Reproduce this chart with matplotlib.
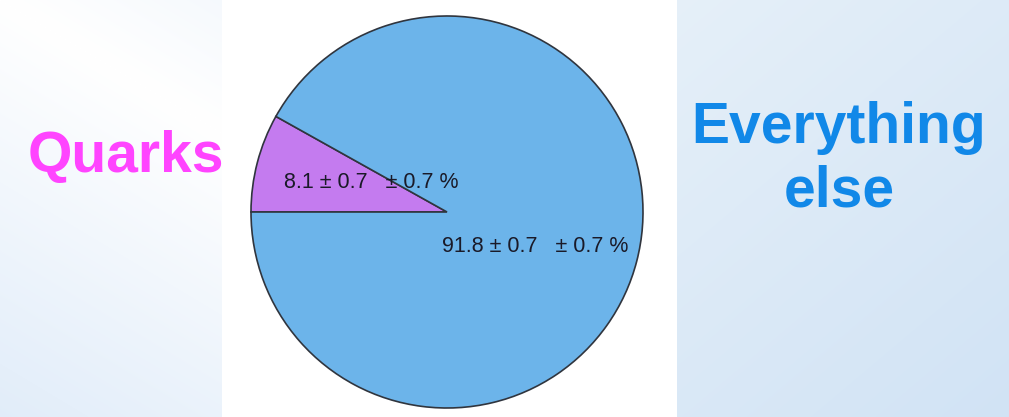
import numpy as np
import matplotlib.pyplot as plt

# data
labels = ['Quarks', 'Everything\nelse']
shares = [8.1, 91.8]
share_text = ['8.1 ± 0.7   ± 0.7 %', '91.8 ± 0.7   ± 0.7 %']
slice_colors = ['#c47bef', '#6cb4ea']
label_colors = ['#ff44ff', '#1188e8']

W, H = 1009, 417
fig = plt.figure(figsize=(W / 100, H / 100), dpi=100)
ax = fig.add_axes([0, 0, 1, 1])

# background: left pale gradient panel, white middle, light blue right panel
yy, xx = np.mgrid[0:H, 0:W]
d = (xx * 0.6 + (H - yy)) / H  # diagonal coordinate
left = np.clip(np.abs(d - 1.0) * 0.09, 0, 0.09)
r = 1 - left * 1.3
g = 1 - left * 0.8
b = 1 - left * 0.25
bg = np.dstack([r, g, b])
right = (xx >= 677)
t = np.clip((xx - 677) / 330 * 0.4 + yy / H * 0.6, 0, 1)
bg[right, 0] = 0.90 - 0.08 * t[right]
bg[right, 1] = 0.94 - 0.05 * t[right]
bg[right, 2] = 0.975 - 0.015 * t[right]
mid = (xx >= 222) & (xx < 677)
bg[mid] = 1.0
ax.imshow(bg, extent=(0, W, 0, H), origin='upper', zorder=0, aspect='auto')

wedges, _ = ax.pie(shares, colors=slice_colors, startangle=180, counterclock=False,
                   center=(447, H - 212), radius=196,
                   wedgeprops=dict(edgecolor='#30353e', linewidth=1.2))
for w in wedges:
    w.set_zorder(2)

ax.text(371, H - 182, share_text[0], fontsize=15.5, color='#1a1a28',
        family='Liberation Sans', ha='center', va='center', zorder=3)
ax.text(535, H - 246, share_text[1], fontsize=15.5, color='#1a1a28',
        family='Liberation Sans', ha='center', va='center', zorder=3)

ax.text(126, H - 157, labels[0], fontsize=41, fontweight='bold', color=label_colors[0],
        family='Liberation Sans', ha='center', va='center', zorder=3)
ax.text(839, H - 160, labels[1], fontsize=41, fontweight='bold', color=label_colors[1],
        family='Liberation Sans', ha='center', va='center', linespacing=1.22, zorder=3)

ax.set_xlim(0, W)
ax.set_ylim(0, H)
ax.set_aspect('auto')
ax.axis('off')

plt.savefig('out.png', dpi=100)
